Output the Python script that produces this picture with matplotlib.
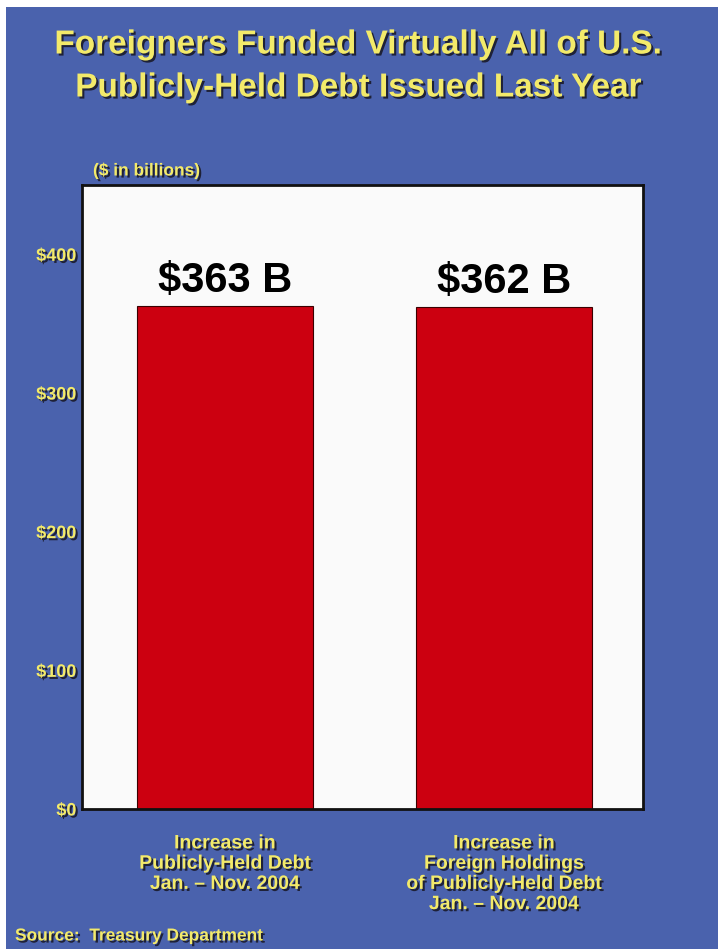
import matplotlib.pyplot as plt
import matplotlib.patheffects as pe
from matplotlib.patches import Rectangle
from matplotlib import font_manager

# data
categories = ["Increase in\nPublicly-Held Debt\nJan. \u2013 Nov. 2004",
              "Increase in\nForeign Holdings\nof Publicly-Held Debt\nJan. \u2013 Nov. 2004"]
values = [363, 362]
bar_labels = ["$363 B", "$362 B"]
yticks = [0, 100, 200, 300, 400]
ytick_labels = ["$0", "$100", "$200", "$300", "$400"]

BLUE = "#4A62AD"
YELLOW = "#F3EA6A"
RED = "#CC0010"

names = {f.name for f in font_manager.fontManager.ttflist}
narrow = "Liberation Sans Narrow" if "Liberation Sans Narrow" in names else "Liberation Sans"
plt.rcParams['font.family'] = ['Liberation Sans', 'DejaVu Sans']

shadow = [pe.withSimplePatchShadow(offset=(1.5, -1.5), shadow_rgbFace='#1a1a2a', alpha=0.9)]

fig = plt.figure(figsize=(7.18, 9.53), dpi=100)
fig.patch.set_facecolor('white')
fig.patches.append(Rectangle((6 / 718, 3 / 953), 1 - 6 / 718, 1 - 11 / 953,
                             transform=fig.transFigure, facecolor=BLUE,
                             edgecolor='none', zorder=-10))

ax = fig.add_axes([82 / 718, 1 - 810 / 953, 561 / 718, 624 / 953])
ax.set_facecolor('#FAFAFA')

x = [0, 1]
ax.bar(x, values, width=0.63, color=RED, edgecolor='#3a0000', linewidth=0.8, zorder=2)
for xi, v, lab in zip(x, values, bar_labels):
    ax.text(xi, v + 4, lab, ha='center', va='bottom', fontsize=30,
            fontweight='bold', color='black')

ax.set_xlim(-0.5125, 1.498)
ax.set_ylim(0, 450)
ax.set_yticks(yticks)
ax.set_yticklabels(ytick_labels)
ax.set_xticks(x)
ax.set_xticklabels(categories)
ax.tick_params(axis='both', length=0)
ax.tick_params(axis='y', pad=4)
ax.tick_params(axis='x', pad=19)
for t in ax.get_yticklabels():
    t.set_family(narrow)
    t.set_fontweight('bold')
    t.set_fontsize(13)
    t.set_color(YELLOW)
    t.set_path_effects(shadow)
for t in ax.get_xticklabels():
    t.set_family(narrow)
    t.set_fontweight('bold')
    t.set_fontsize(14)
    t.set_color(YELLOW)
    t.set_linespacing(1.25)
    t.set_path_effects(shadow)
for s in ax.spines.values():
    s.set_linewidth(2)
    s.set_color('#111111')

fig.text(0.5, 1 - 46 / 953, "Foreigners Funded Virtually All of U.S.", ha='center', va='center',
         fontsize=24, fontweight='bold', color=YELLOW, path_effects=shadow)
fig.text(0.5, 1 - 89 / 953, "Publicly-Held Debt Issued Last Year", ha='center', va='center',
         fontsize=24, fontweight='bold', color=YELLOW, path_effects=shadow)
fig.text(93 / 718, 1 - 172 / 953, "($ in billions)", ha='left', va='center',
         fontsize=12.5, fontweight='bold', color=YELLOW, family=narrow, path_effects=shadow)
fig.text(15 / 718, 1 - 937 / 953, "Source:  Treasury Department", ha='left', va='center',
         fontsize=12.5, fontweight='bold', color=YELLOW, family=narrow, path_effects=shadow)

fig.savefig('out.png', dpi=100, facecolor=fig.get_facecolor())
